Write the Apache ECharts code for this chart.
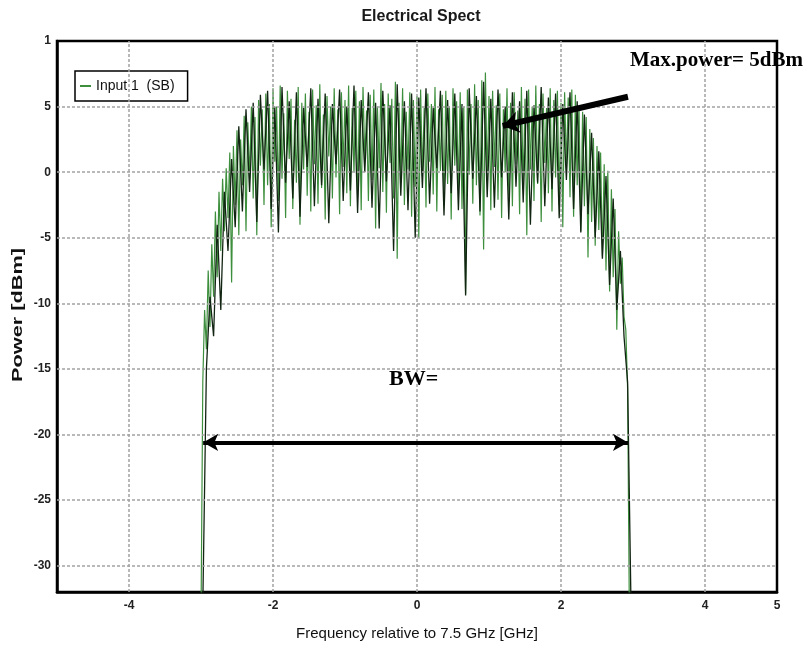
<!DOCTYPE html>
<html>
<head>
<meta charset="utf-8">
<script src="https://cdn.jsdelivr.net/npm/echarts@6/dist/echarts.min.js"></script>
<style>html,body{margin:0;padding:0;background:#fff;}#c{width:806px;height:646px;}</style>
</head>
<body>
<div id="c"></div>
<script>
// ---- data ----
const greenStart = -3.0, greenStep = 0.025;
const greenPower = [
-34,-16,-10.5,-13.5,-7.5,-11.8,-5.5,-9.5,-3.0,-8.0,
-1.5,-6.0,-0.5,-4.5,0.3,-3.5,1.5,-8.4,2.0,-2.5,
3.2,-4.8,2.5,-1.0,4.3,-4.5,3.8,-0.5,5.0,-2.0,
4.2,-4.8,5.5,0.5,4.8,-2.5,6.0,-1.0,5.2,-4.2,
6.4,0.8,5.0,-2.2,6.6,-0.5,4.5,-3.5,6.2,1.0,
5.6,-2.8,4.0,-0.8,6.5,-4.0,5.3,0.2,6.0,-1.8,
4.6,-3.0,6.3,0.6,5.1,-2.4,6.7,-1.2,4.4,-3.6,
5.8,1.2,5.0,-2.0,6.4,-0.4,4.8,-3.2,6.1,0.4,
5.5,-1.6,6.6,-2.6,4.9,0.0,6.2,-1.9,5.4,-2.9,
6.5,0.9,4.7,-2.2,5.9,-0.6,6.3,-4.3,5.0,0.3,
6.8,-1.5,5.2,-3.1,6.0,0.7,5.6,-2.0,6.9,-6.6,
5.3,-0.8,6.4,-2.5,4.6,0.2,6.1,-3.4,5.5,-1.1,
5.8,-5.0,6.3,-0.3,4.9,-2.7,6.0,0.8,5.2,-1.7,
6.5,-3.0,4.8,0.1,5.9,-2.3,6.2,-0.9,5.0,-3.6,
6.4,0.5,5.4,-1.4,6.1,-2.8,5.0,-9.3,6.3,-0.2,
5.2,-2.4,6.7,-1.0,5.5,-3.3,7.0,-5.9,7.6,-0.6,
5.8,-2.9,6.2,0.4,5.1,-2.1,6.0,-3.5,4.8,0.0,
6.4,-1.8,5.3,-2.6,6.1,0.6,4.7,-3.2,6.5,-1.3,
5.6,-4.8,6.3,0.2,5.0,-2.2,6.6,-0.9,5.2,-3.8,
6.0,0.7,4.9,-1.6,6.4,-3.0,5.5,-0.4,6.2,-2.5,
5.3,-4.2,6.1,0.3,5.7,-1.9,6.3,-3.4,5.9,-1.0,
5.0,-4.5,4.6,-2.6,4.2,-6.5,3.3,-3.8,2.6,-5.6,
2.0,-4.4,1.5,-6.4,0.6,-7.5,0.1,-9.1,-1.3,-8.0,
-2.8,-12.0,-4.5,-8.5,-6.5,-11.0,-12.0,-16.5,-34
];
const darkStart = -2.975, darkStep = 0.05;
const darkPower = [
-33,-15,-9.5,-12.5,-4.0,-10.5,-1.5,-6.0,1.0,-4.2,
3.5,-3.0,4.8,-1.5,5.3,-3.8,5.9,0.2,6.2,-2.8,
5.0,-4.6,6.5,-0.8,5.4,-2.0,6.1,-3.4,4.9,0.4,
6.4,-2.6,5.6,-1.0,6.0,-3.9,5.2,0.6,6.3,-2.2,
5.0,-1.4,6.6,-3.1,5.5,0.0,6.1,-2.7,5.3,-4.3,
6.2,-0.7,5.1,-6.0,6.7,-1.8,5.4,-2.9,6.0,-5.0,
5.7,-1.2,6.4,-2.4,4.9,0.3,6.2,-3.3,5.5,-1.6,
6.0,-2.9,5.2,-9.4,6.4,-0.5,5.8,-3.0,6.9,-1.9,
5.6,-2.7,6.3,-0.4,5.0,-3.6,6.1,-1.1,5.4,-2.3,
6.2,-4.0,5.1,-0.8,6.5,-2.6,5.7,-1.3,6.0,-3.5,
5.2,-0.6,6.1,-2.8,5.4,-4.6,4.4,-3.2,3.0,-5.0,
1.6,-6.6,-0.3,-8.6,-2.0,-10.5,-6.0,-12.5,-16.0,-34
];
const seriesName = 'Input 1  (SB)';
const xTickValues = [-4, -2, 0, 2, 4, 5];
const xGridValues = [-4, -2, 0, 2, 4];
const yTickValues = [-30, -25, -20, -15, -10, -5, 0, 5, 10];
const yGridValues = [-30, -25, -20, -15, -10, -5, 0, 5];
const bwArrow = [[-2.97, -20.6], [2.93, -20.6]];
const maxArrow = [[2.93, 5.75], [1.19, 3.53]];

const greenData = greenPower.map((v, i) => [+(greenStart + i * greenStep).toFixed(4), v]);
const darkData = darkPower.map((v, i) => [+(darkStart + i * darkStep).toFixed(4), v]);

const sans = "'Liberation Sans', Arial, sans-serif";
const serif = "'Liberation Serif', 'Times New Roman', serif";
const gridStyle = { color: '#a3a3a3', width: 1.5, type: [3, 2] };

const chart = echarts.init(document.getElementById('c'), null, { renderer: 'canvas' });
chart.setOption({
  animation: false,
  backgroundColor: '#fff',
  title: {
    text: 'Electrical Spect', left: 416, top: 4, textAlign: 'center',
    textStyle: { fontFamily: sans, fontSize: 16, fontWeight: 'bold', color: '#1a1a1a' }
  },
  legend: {
    data: [seriesName], left: 75, top: 71,
    orient: 'vertical',
    backgroundColor: '#fff',
    borderColor: '#000', borderWidth: 1.5, borderRadius: 0,
    padding: [8, 13, 8, 5],
    itemWidth: 11, itemHeight: 2, itemGap: 4,
    icon: 'rect',
    textStyle: { fontFamily: sans, fontSize: 14, color: '#111' }
  },
  grid: {
    left: 57, right: 29, top: 41, bottom: 54,
    show: true, borderColor: '#000', borderWidth: 2.5, backgroundColor: '#fff'
  },
  xAxis: {
    type: 'value', min: -5, max: 5,
    name: 'Frequency relative to 7.5 GHz [GHz]', nameLocation: 'middle', nameGap: 34,
    nameTextStyle: { fontFamily: sans, fontSize: 15, color: '#111' },
    axisLine: { show: true, onZero: false, lineStyle: { color: '#000', width: 2.5 } },
    axisTick: { show: false },
    splitLine: { show: false },
    axisLabel: {
      customValues: xTickValues, margin: 8,
      fontFamily: sans, fontSize: 12, fontWeight: 'bold', color: '#222'
    }
  },
  yAxis: {
    type: 'value', min: -32, max: 10,
    axisLine: { show: true, onZero: false, lineStyle: { color: '#000', width: 2.5 } },
    axisTick: { show: false },
    splitLine: { show: false },
    axisLabel: {
      customValues: yTickValues, margin: 6,
      fontFamily: sans, fontSize: 12, fontWeight: 'bold', color: '#222',
      formatter: v => (v === 10 ? '1' : String(v))
    }
  },
  series: [
    {
      name: 'grid', type: 'line', data: [], z: 1, silent: true,
      markLine: {
        silent: true, symbol: 'none', animation: false,
        label: { show: false },
        lineStyle: gridStyle,
        data: xGridValues.map(v => ({ xAxis: v })).concat(yGridValues.map(v => ({ yAxis: v })))
      }
    },
    {
      name: seriesName, type: 'line', data: greenData, z: 3,
      showSymbol: false, symbol: 'none',
      color: '#3d8f3d',
      lineStyle: { color: '#3d8f3d', width: 1.2 }
    },
    {
      name: 'trace', type: 'line', data: darkData, z: 4,
      showSymbol: false, symbol: 'none',
      color: '#122412',
      lineStyle: { color: '#122412', width: 1.3 },
      markLine: {
        silent: true, animation: false, z: 10,
        label: { show: false },
        data: [
          [
            { coord: bwArrow[0], symbol: 'arrow', symbolSize: [13, 15], lineStyle: { color: '#000', width: 4, type: 'solid' } },
            { coord: bwArrow[1], symbol: 'arrow', symbolSize: [13, 15] }
          ],
          [
            { coord: maxArrow[0], symbol: 'none', lineStyle: { color: '#000', width: 6, type: 'solid' } },
            { coord: maxArrow[1], symbol: 'arrow', symbolSize: [16, 16] }
          ]
        ]
      }
    }
  ],
  graphic: [
    { type: 'text', x: 18, y: 315, rotation: Math.PI / 2, scaleX: 1.55, scaleY: 1, z: 100,
      style: { text: 'Power [dBm]', font: 'bold 14px ' + sans, fill: '#111', align: 'center', verticalAlign: 'middle' } },
    { type: 'text', left: 630, top: 50, z: 100,
      style: { text: 'Max.power= 5dBm', font: 'bold 21px ' + serif, fill: '#000' } },
    { type: 'text', left: 389, top: 368, z: 100,
      style: { text: 'BW=', font: 'bold 22px ' + serif, fill: '#000' } }
  ]
});
</script>
</body>
</html>
